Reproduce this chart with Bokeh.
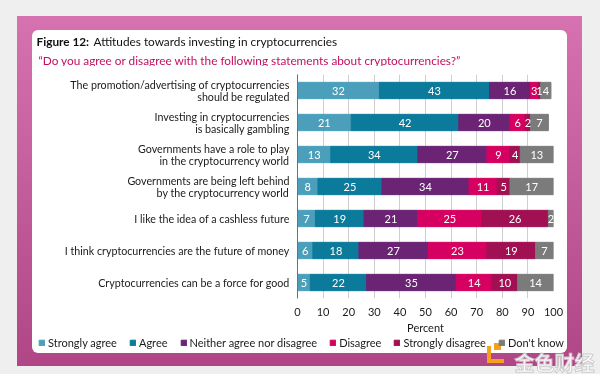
from bokeh.plotting import figure
from bokeh.models import (ColumnDataSource, FactorRange, Range1d, LabelSet, Label,
                          Legend, LegendItem, FixedTicker)
from bokeh.layouts import column
from bokeh.embed import file_html
from bokeh.resources import INLINE
from bokeh.core.properties import value

# ---------------- data ----------------
statements = [
    "The promotion/advertising of cryptocurrencies\nshould be regulated",
    "Investing in cryptocurrencies\nis basically gambling",
    "Governments have a role to play\nin the cryptocurrency world",
    "Governments are being left behind\nby the cryptocurrency world",
    "I like the idea of a cashless future",
    "I think cryptocurrencies are the future of money",
    "Cryptocurrencies can be a force for good",
]
strongly_agree = [32, 21, 13, 8, 7, 6, 5]
agree = [43, 42, 34, 25, 19, 18, 22]
neither = [16, 20, 27, 34, 21, 27, 35]
disagree = [3, 6, 9, 11, 25, 23, 14]
strongly_disagree = [1, 2, 4, 5, 26, 19, 10]
dont_know = [4, 7, 13, 17, 2, 7, 14]

series_names = ["Strongly agree", "Agree", "Neither agree nor disagree",
                "Disagree", "Strongly disagree", "Don't know"]
series_keys = ["sa", "a", "n", "d", "sd", "dk"]
series_values = [strongly_agree, agree, neither, disagree, strongly_disagree, dont_know]
colors = ["#4b9fbb", "#0b7a9b", "#6a2473", "#d5005f", "#a01052", "#7b7b7b"]

x_ticks = [0, 10, 20, 30, 40, 50, 60, 70, 80, 90, 100]
x_label = "Percent"
title_bold = "Figure 12:"
title_rest = "Attitudes towards investing in cryptocurrencies"
subtitle = "\u201cDo you agree or disagree with the following statements about cryptocurrencies?\u201d"
watermark = "金色财经"

FONT = "Lato"
W = 600
H_TOP, H_MID, H_BOT = 66, 270, 38

src = {"statement": statements}
for k, v in zip(series_keys, series_values):
    src[k] = v
source = ColumnDataSource(src)


def bare(height, **kw):
    f = figure(width=W, height=height, output_backend="svg", toolbar_location=None,
               x_axis_location=None, y_axis_location=None, min_border=0, **kw)
    f.border_fill_color = None
    f.background_fill_color = None
    f.outline_line_color = None
    f.grid.visible = False
    try:
        f.frame_align = False
    except Exception:
        pass
    return f


def canvas_label(fig, text, x, y, **kw):
    fig.add_layout(Label(x=x, y=y, x_units="canvas", y_units="canvas", text=text,
                         text_baseline="alphabetic", **kw))


# ---------------- titles strip ----------------
top = bare(H_TOP, x_range=Range1d(0, 1), y_range=Range1d(0, 1))
canvas_label(top, title_bold, 36, 41, text_font=FONT, text_font_style="bold",
             text_font_size="11.8px", text_color="#111111")
canvas_label(top, title_rest, 93, 41, text_font=FONT, text_font_size="11.8px",
             text_color="#111111")
canvas_label(top, subtitle, 38, 60, text_font=FONT, text_font_size="11.8px",
             text_color="#c0105e")

# ---------------- main chart ----------------
p = figure(width=W, height=H_MID, output_backend="svg", toolbar_location=None,
           y_range=FactorRange(factors=list(reversed(statements)), range_padding=0),
           x_range=Range1d(0, 100),
           min_border_left=297, min_border_right=47, min_border_top=8, min_border_bottom=35)
p.border_fill_color = None
p.background_fill_color = "white"
p.outline_line_color = None

p.hbar_stack(series_keys, y="statement", height=0.51, color=colors, source=source)

lx, ly, lt = [], [], []
for i, st in enumerate(statements):
    cum = 0
    for vals in series_values:
        v = vals[i]
        lx.append(cum + v / 2)
        ly.append(st)
        lt.append(str(v))
        cum += v
p.add_layout(LabelSet(x="x", y="y", text="t",
                      source=ColumnDataSource(dict(x=lx, y=ly, t=lt)),
                      text_color="white", text_font=value(FONT), text_font_size="11px",
                      text_align="center", text_baseline="middle"))

p.xaxis.ticker = FixedTicker(ticks=x_ticks)
p.xaxis.axis_line_color = None
p.xaxis.major_tick_line_color = None
p.xaxis.minor_tick_line_color = None
p.xaxis.major_label_text_font = FONT
p.xaxis.major_label_text_font_size = "11px"
p.xaxis.major_label_text_color = "#1a1a1a"
p.xaxis.major_label_standoff = 3
p.xaxis.axis_label = x_label
p.xaxis.axis_label_text_font = FONT
p.xaxis.axis_label_text_font_style = "normal"
p.xaxis.axis_label_text_font_size = "11px"
p.xaxis.axis_label_text_color = "#1a1a1a"
p.xaxis.axis_label_standoff = 2

p.yaxis.axis_line_color = "#707070"
p.yaxis.major_tick_line_color = None
p.yaxis.minor_tick_line_color = None
p.yaxis.major_tick_out = 0
p.yaxis.major_tick_in = 0
p.yaxis.major_label_text_font = FONT
p.yaxis.major_label_text_font_size = "10.7px"
p.yaxis.major_label_text_color = "#1a1a1a"
p.yaxis.major_label_text_line_height = 0.87
p.yaxis.major_label_standoff = 8

p.xgrid.grid_line_color = "#cfcfcf"
p.ygrid.grid_line_color = None

# ---------------- legend strip ----------------
# the same stacked series, on a range that shows none of their rows: they only supply swatches
bot = bare(H_BOT, x_range=Range1d(200, 300), y_range=FactorRange(factors=["legend"]))
swatches = bot.hbar_stack(series_keys, y="statement", height=0.51, color=colors, source=source)
legend = Legend(items=[LegendItem(label=n, renderers=[r]) for n, r in zip(series_names, swatches)],
                orientation="horizontal", location=(38, 25.5),
                glyph_width=7, glyph_height=7, label_standoff=3, spacing=12,
                label_height=12, label_text_font=FONT, label_text_font_size="11px",
                label_text_color="#1a1a1a", padding=0, margin=0,
                border_line_color=None, background_fill_alpha=0)
bot.add_layout(legend)
canvas_label(bot, watermark, 514, 26, text_font="Noto Sans CJK SC", text_font_style="bold",
             text_font_size="20px", text_color="#ffffff", text_alpha=0.92,
             text_outline_color="#c8c8c8")

layout = column(top, p, bot, spacing=0)
html = file_html(layout, INLINE)

org = "linear-gradient(#f5a01e,#f5a01e)"
css = """<style>
body { background: #efefef; }
body::before { content: ""; position: fixed; left: 17px; top: 16px; width: 565px; height: 350px;
  background: %(o)s 470px 330px / 4px 17px no-repeat, %(o)s 470px 343px / 17px 4px no-repeat,
              %(o)s 477px 327px / 7px 7px no-repeat, linear-gradient(#d672af, #b04686);
  z-index: -2; }
body::after { content: ""; position: fixed; left: 32px; top: 30px; width: 535px; height: 323px;
  background: %(o)s 455px 316px / 4px 17px no-repeat, %(o)s 455px 329px / 17px 4px no-repeat,
              %(o)s 462px 313px / 7px 7px no-repeat, #ffffff;
  border-radius: 6px; z-index: -1; }
</style>""" % {"o": org}
html = html.replace("</head>", css + "\n</head>", 1)
open("out.html", "w").write(html)
